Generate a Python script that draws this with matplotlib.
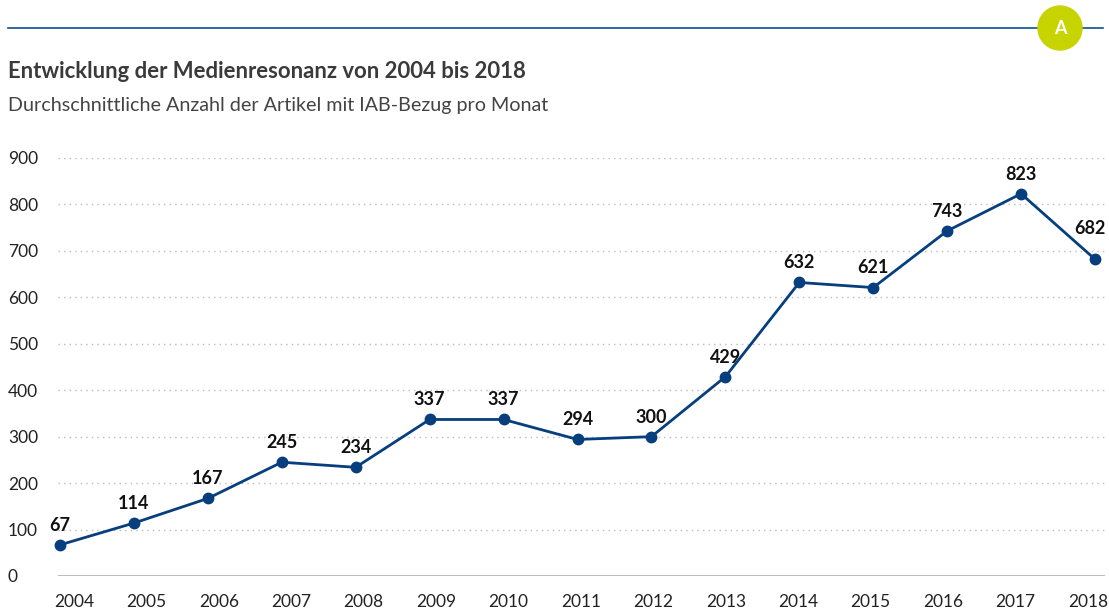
import matplotlib
matplotlib.use("Agg")
import matplotlib.pyplot as plt
from matplotlib.patches import Ellipse

years = [2004, 2005, 2006, 2007, 2008, 2009, 2010, 2011, 2012, 2013, 2014, 2015, 2016, 2017, 2018]
values = [67, 114, 167, 245, 234, 337, 337, 294, 300, 429, 632, 621, 743, 823, 682]
yticks = [0, 100, 200, 300, 400, 500, 600, 700, 800, 900]

title = "Entwicklung der Medienresonanz von 2004 bis 2018"
subtitle = "Durchschnittliche Anzahl der Artikel mit IAB-Bezug pro Monat"

plt.rcParams['font.family'] = ['Lato', 'DejaVu Sans']

W, H = 1109, 611
fig = plt.figure(figsize=(W / 100, H / 100), dpi=100)

navy = "#073e7e"
ax = fig.add_axes([58 / W, 1 - 576 / H, (1105 - 58) / W, (576 - 158) / H])
ax.set_ylim(0, 900)
ax.set_xlim(2003.973, 2018.135)

ax.plot(years, values, color=navy, lw=2.0, marker='o', ms=7.5, zorder=3, clip_on=False)
for i, (x, v) in enumerate(zip(years, values)):
    if i == len(years) - 1:
        ax.annotate(str(v), (x, v), xytext=(7.5, 16), textcoords='offset points',
                    ha='right', va='bottom', fontsize=13, fontweight='bold', color='#111111')
    else:
        ax.annotate(str(v), (x, v), xytext=(0, 8), textcoords='offset points',
                    ha='center', va='bottom', fontsize=13, fontweight='bold', color='#111111')

for s in ax.spines.values():
    s.set_visible(False)
ax.set_yticks(yticks)
ax.set_yticklabels([str(t) for t in yticks])
ax.tick_params(axis='y', length=0, pad=36, labelsize=12.5, labelcolor='#222222')
for lab in ax.get_yticklabels():
    lab.set_horizontalalignment('left')
ax.set_xticks([])
for t in yticks[1:]:
    ax.axhline(t, color='#bbbbbb', lw=1, ls=(0, (1, 3)), zorder=1)
ax.axhline(0, color='#b5b5b5', lw=1.3, zorder=1)

# tick labels on a band-like secondary axis
ax2 = ax.twiny()
ax2.set_xlim(2003.779, 2018.235)
ax2.xaxis.set_ticks_position('bottom')
ax2.xaxis.set_label_position('bottom')
ax2.set_xticks(years)
ax2.set_xticklabels([str(y) for y in years])
ax2.tick_params(axis='x', length=0, pad=13, labelsize=12.5, labelcolor='#222222')
for s in ax2.spines.values():
    s.set_visible(False)

# header
fig.add_artist(plt.Line2D([8 / W, 1103 / W], [1 - 28 / H, 1 - 28 / H], color='#0d4f96', lw=1.2))
fig.add_artist(Ellipse((1060 / W, 1 - 28 / H), 44 / W, 44 / H, color='#c8d400', zorder=5))
fig.text(1060 / W, 1 - 29 / H, "A", ha='center', va='center', color='white',
         fontsize=13, fontweight='bold', zorder=6)

fig.text(8 / W, 1 - 72 / H, title, ha='left', va='center', fontsize=15.9,
         fontweight='bold', color='#3a3a3a')
fig.text(8 / W, 1 - 106 / H, subtitle, ha='left', va='center', fontsize=14.2,
         color='#444444')

fig.savefig("out.png", dpi=100)
